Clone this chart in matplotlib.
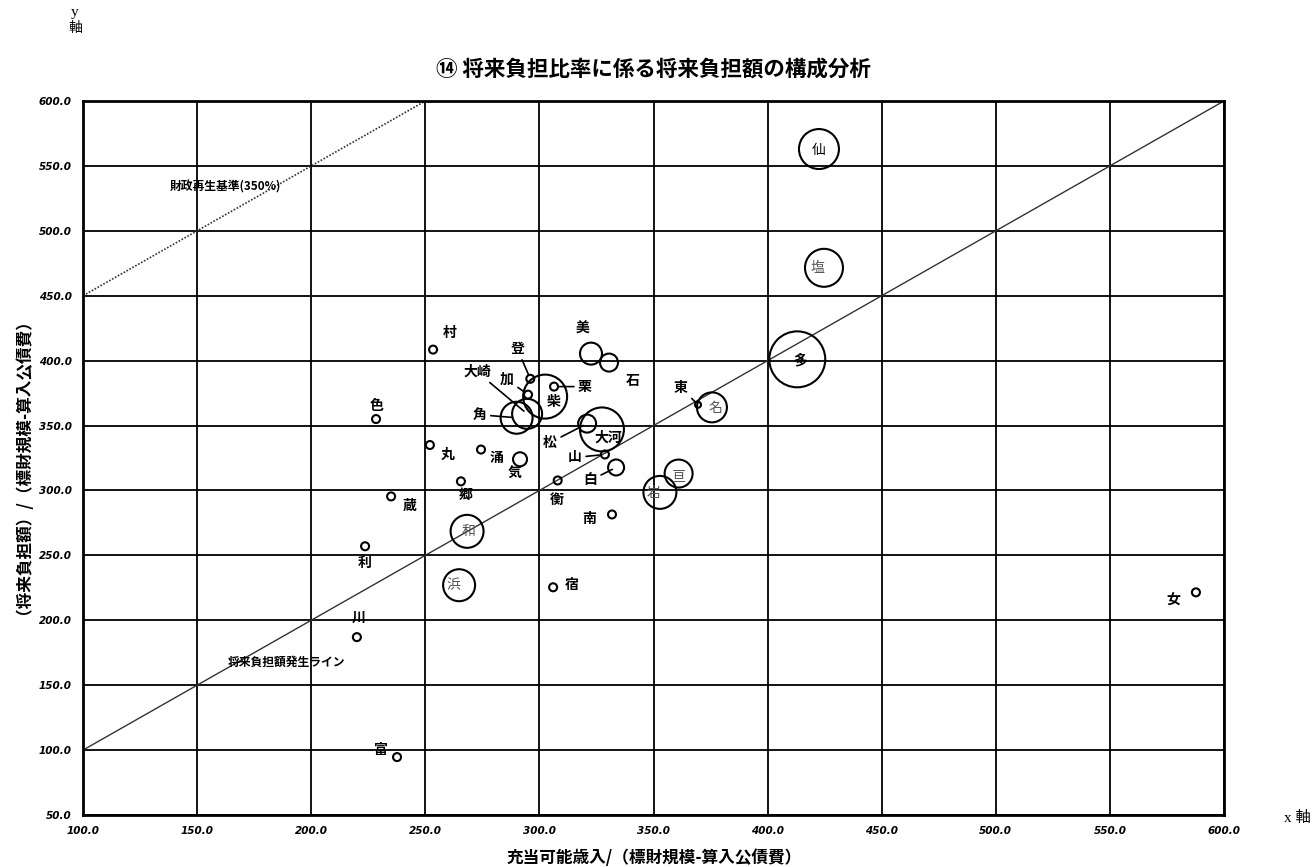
import matplotlib
matplotlib.use("Agg")
from matplotlib import pyplot as plt
import numpy as np

plt.rcParams['font.family'] = ['Noto Sans CJK JP', 'DejaVu Sans']

# data
names = ['仙', '塩', '多', '名', '東', '岩', '亘', '大河', '松', '山', '白', '南', '衡',
         '美', '石', '栗', '柴', '登', '加', '大崎', '角', '村', '丸', '涌', '気', '郷',
         '色', '蔵', '和', '浜', '宿', '利', '川', '富', '女']
x_vals = [422.5, 424.7, 413.0, 375.6, 369.5, 352.8, 361.0, 327.4, 320.9, 328.7, 333.6, 331.8, 308.0,
          322.6, 330.5, 306.4, 302.5, 296.0, 295.0, 294.6, 290.0, 253.4, 252.0, 274.4, 291.5, 265.6,
          228.4, 235.0, 268.3, 264.8, 306.0, 223.6, 220.0, 237.6, 587.7]
y_vals = [563.0, 471.5, 401.0, 364.0, 366.0, 298.5, 313.0, 347.0, 351.5, 327.7, 317.7, 281.5, 307.7,
          405.4, 398.5, 380.0, 372.3, 386.0, 373.8, 359.0, 356.0, 408.5, 335.0, 331.5, 324.0, 307.0,
          355.0, 295.4, 268.5, 227.0, 225.4, 257.0, 187.0, 94.6, 221.5]
bubble = [400, 361, 784, 225, 9, 272, 196, 484, 81, 16, 64, 16, 16,
          121, 81, 16, 484, 16, 16, 225, 256, 16, 16, 16, 49, 16,
          16, 16, 272, 256, 16, 16, 16, 16, 16]

x_ticks = np.arange(100, 601, 50)
y_ticks = np.arange(50, 601, 50)

# label layout (offsets in pixels, leader line flag, style)
offsets = {'仙': (0, -1), '塩': (-6, 0), '多': (3, -1), '名': (4, -1), '東': (-17, 17),
           '岩': (-6, -1), '亘': (0, -2), '大河': (6, -8), '松': (-37, -19), '山': (-30, -3),
           '白': (-26, -13), '南': (-23, -5), '衡': (-1, -20), '美': (-8, 25), '石': (24, -18),
           '栗': (31, 0), '柴': (9, -5), '登': (-13, 30), '加': (-21, 15), '大崎': (-50, 42),
           '角': (-37, 3), '村': (17, 17), '丸': (18, -10), '涌': (16, -8), '気': (-5, -14),
           '郷': (5, -14), '色': (1, 13), '蔵': (19, -10), '和': (2, 0), '浜': (-6, 0),
           '宿': (19, 2), '利': (0, -17), '川': (2, 19), '富': (-16, 7), '女': (-23, -7)}
leaders = ['東', '松', '山', '白', '栗', '登', '加', '大崎', '角']
light = ['塩', '名', '亘', '岩', '和', '浜']

fig = plt.figure(figsize=(13.14, 8.67), dpi=100)
ax = fig.add_axes([0.0632, 0.06, 0.8683, 0.8235])

ax.set_xlim(100, 600)
ax.set_ylim(50, 600)
ax.set_xticks(x_ticks)
ax.set_yticks(y_ticks)
ax.set_xticklabels(['%.1f' % v for v in x_ticks])
ax.set_yticklabels(['%.1f' % v for v in y_ticks])
ax.tick_params(length=0, labelsize=7.5, pad=8)
for lab in ax.get_xticklabels() + ax.get_yticklabels():
    lab.set_fontstyle('italic')
    lab.set_fontweight('heavy')
    lab.set_family('DejaVu Sans')
ax.grid(True, color='black', lw=1.3)
ax.set_axisbelow(True)
for sp in ax.spines.values():
    sp.set_linewidth(2)

# reference lines
ax.plot([100, 600], [100, 600], color='#333333', lw=1.0, zorder=2)
ax.plot([100, 250], [450, 600], color='#333333', lw=1.2, ls=(0, (1, 1)), zorder=2)
ax.text(138, 533.8, '財政再生基準(350%)', fontsize=8.5, fontweight='bold', va='center')
ax.text(163.5, 167.7, '将来負担額発生ライン', fontsize=8.5, fontweight='bold', va='center')

ax.scatter(x_vals, y_vals, s=np.array(bubble) * 2.07, facecolors='none',
           edgecolors='black', linewidths=1.5, zorder=3)

for n, xv, yv in zip(names, x_vals, y_vals):
    dx, dy = offsets[n]
    col = '#555555' if n in light else 'black'
    wt = 'normal' if n in light or n == '仙' else 'bold'
    kw = {}
    if n in leaders:
        kw['arrowprops'] = dict(arrowstyle='-', color='black', lw=1.2, shrinkA=1, shrinkB=3)
    ax.annotate(n, (xv, yv), xytext=(dx, dy), textcoords='offset pixels',
                ha='center', va='center', fontsize=10, color=col, fontweight=wt,
                zorder=5, **kw)

ax.set_title('⑭ 将来負担比率に係る将来負担額の構成分析', fontsize=15.5,
             fontweight='bold', fontstyle='italic', pad=18)
ax.set_xlabel('充当可能歳入/（標財規模-算入公債費）', fontsize=12, fontweight='bold', va='center')
ax.xaxis.set_label_coords(0.501, -0.06)
ax.set_ylabel('（将来負担額）/（標財規模-算入公債費）', fontsize=12, fontweight='bold', va='center')
ax.yaxis.set_label_coords(-0.06, 0.5)

fig.text(0.057, 0.986, 'y', fontsize=11, family=['Liberation Serif', 'Noto Sans CJK JP'], ha='center', va='center')
fig.text(0.057, 0.968, '軸', fontsize=10, family=['Noto Sans CJK JP'], ha='center', va='center')
fig.text(0.987, 0.0565, 'x 軸', fontsize=11, family=['Liberation Serif', 'Noto Sans CJK JP'], ha='center', va='center')

fig.savefig('out.png', dpi=100)
